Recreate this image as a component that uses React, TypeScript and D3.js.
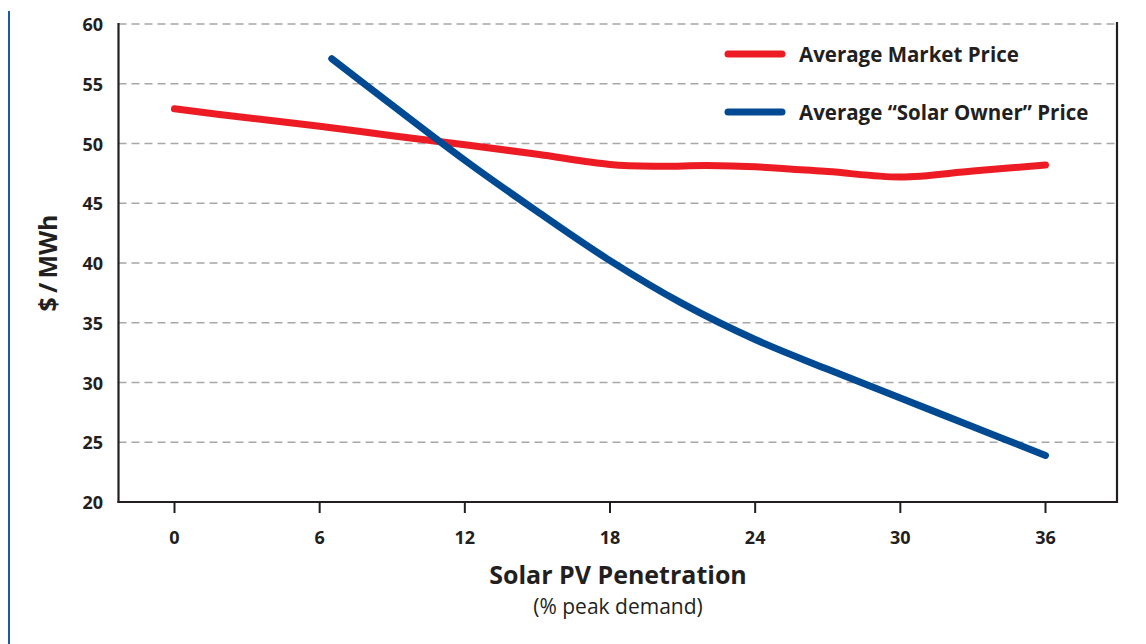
import React from "react";
import * as d3 from "d3";

const xTicks = [0, 6, 12, 18, 24, 30, 36];
const yTicks = [20, 25, 30, 35, 40, 45, 50, 55, 60];

const marketX = [0, 3, 6, 9, 12, 15, 18, 20, 22, 24, 27, 30, 33, 36];
const marketY = [52.9, 52.15, 51.45, 50.65, 49.9, 49.1, 48.25, 48.1, 48.15, 48.05, 47.65, 47.2, 47.7, 48.2];

const ownerX = [6.5, 9, 12, 15, 18, 21, 24, 27, 30, 33, 36];
const ownerY = [57.1, 53.2, 48.6, 44.3, 40.2, 36.6, 33.6, 31.1, 28.7, 26.3, 23.9];

const seriesNames = ["Average Market Price", "Average \u201cSolar Owner\u201d Price"];
const seriesColors = ["#ed1c24", "#004a93"];

const W = 1146;
const H = 644;
const FONT = "'Open Sans', 'DejaVu Sans', sans-serif";

export default function App() {
  const x = d3.scaleLinear().domain([0, 36]).range([174.5, 1045.5]);
  const y = d3.scaleLinear().domain([20, 60]).range([502, 24]);
  const left = 118.5;
  const right = 1117;

  const line = d3
    .line<[number, number]>()
    .x((d) => x(d[0]))
    .y((d) => y(d[1]))
    .curve(d3.curveCatmullRom.alpha(0.5));

  const market: [number, number][] = marketX.map((v, i) => [v, marketY[i]]);
  const owner: [number, number][] = ownerX.map((v, i) => [v, ownerY[i]]);

  return (
    <svg
      width={W}
      height={H}
      style={{ position: "absolute", left: 0, top: 0, background: "#fff" }}
      fontFamily={FONT}
    >
      <line x1={9} x2={9} y1={11} y2={H} stroke="#1a5aa6" strokeWidth={2} />
      {yTicks.map((t) => (
        <g key={t}>
          {t > 20 && (
            <line
              x1={left}
              x2={right}
              y1={y(t)}
              y2={y(t)}
              stroke="#a7a7a7"
              strokeWidth={1.5}
              strokeDasharray="8 5"
            />
          )}
          <text
            x={103}
            y={y(t)}
            textAnchor="end"
            dominantBaseline="central"
            fontSize={18}
            fontWeight={700}
            fill="#231f20"
          >
            {t}
          </text>
        </g>
      ))}
      <line x1={left} x2={left} y1={23} y2={503} stroke="#231f20" strokeWidth={2.2} />
      <line x1={right} x2={right} y1={22} y2={503} stroke="#231f20" strokeWidth={2.2} />
      <line x1={left - 1} x2={right + 1} y1={502} y2={502} stroke="#231f20" strokeWidth={2.2} />
      {xTicks.map((t) => (
        <g key={t}>
          <line x1={x(t)} x2={x(t)} y1={502} y2={513} stroke="#231f20" strokeWidth={2} />
          <text
            x={x(t)}
            y={537}
            textAnchor="middle"
            dominantBaseline="central"
            fontSize={18}
            fontWeight={700}
            fill="#231f20"
          >
            {t}
          </text>
        </g>
      ))}
      <path d={line(market) || ""} fill="none" stroke={seriesColors[0]} strokeWidth={7} strokeLinecap="round" />
      <path d={line(owner) || ""} fill="none" stroke={seriesColors[1]} strokeWidth={7} strokeLinecap="round" />

      {seriesNames.map((n, i) => (
        <g key={n}>
          <line
            x1={728}
            x2={782}
            y1={54 + i * 58}
            y2={54 + i * 58}
            stroke={seriesColors[i]}
            strokeWidth={7}
            strokeLinecap="round"
          />
          <text x={799} y={54 + i * 58} dominantBaseline="central" fontSize={20.5} fontWeight={700} fill="#231f20">
            {n}
          </text>
        </g>
      ))}

      <text
        transform={`translate(47,263) rotate(-90)`}
        textAnchor="middle"
        dominantBaseline="central"
        fontSize={25}
        fontWeight={700}
        fill="#231f20"
      >
        {"$\u2009/\u2009MWh"}
      </text>
      <text x={618} y={584} textAnchor="middle" fontSize={25} fontWeight={700} fill="#231f20">
        Solar PV Penetration
      </text>
      <text x={618} y={614} textAnchor="middle" fontSize={21} fontWeight={400} fill="#231f20">
        (% peak demand)
      </text>
    </svg>
  );
}
